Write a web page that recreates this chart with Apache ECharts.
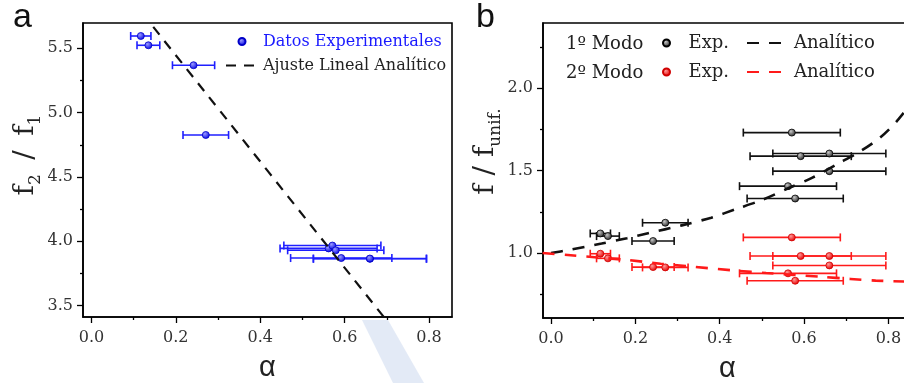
<!DOCTYPE html>
<html>
<head>
<meta charset="utf-8">
<script src="https://cdn.jsdelivr.net/npm/echarts@6/dist/echarts.min.js"></script>
<style>
  html, body { margin: 0; padding: 0; background: #fff; }
  #chart { width: 904px; height: 383px; }
</style>
</head>
<body>
<div id="chart"></div>
<script>
// Measured alpha values and their uncertainty (half width)
const alpha    = [0.117, 0.135, 0.242, 0.271, 0.562, 0.571, 0.579, 0.592, 0.660, 0.660];
const alphaErr = [0.024, 0.027, 0.050, 0.054, 0.115, 0.115, 0.114, 0.120, 0.134, 0.134];

// Panel a: ratio of the second to the first natural frequency
const ratioF2F1 = [5.595, 5.523, 5.368, 4.826, 3.945, 3.967, 3.930, 3.870, 3.864, 3.866];
// Linear fit (end points of the fitted line)
const fitAlpha = [0.12, 0.72];
const fitRatio = [5.775, 3.300];

// Panel b: frequencies normalised by the uniform beam
const mode1Ratio = [1.119, 1.103, 1.073, 1.184, 1.406, 1.731, 1.331, 1.588, 1.604, 1.497];
const mode2Ratio = [0.996, 0.968, 0.915, 0.913, 0.877, 1.095, 0.832, 0.982, 0.982, 0.925];

// Analytical curves
const curve1Alpha = [0.00, 0.04, 0.12, 0.18, 0.23, 0.31, 0.38, 0.44, 0.50, 0.56, 0.62, 0.68, 0.73, 0.78, 0.82, 0.86];
const mode1Curve  = [1.000, 1.018, 1.058, 1.090, 1.120, 1.168, 1.215, 1.268, 1.322, 1.390, 1.458, 1.542, 1.612, 1.700, 1.800, 1.930];
const curve2Alpha = [-0.02, 0.04, 0.18, 0.26, 0.32, 0.44, 0.51, 0.64, 0.71, 0.77, 0.86];
const mode2Curve  = [1.000, 0.988, 0.958, 0.935, 0.921, 0.893, 0.879, 0.856, 0.843, 0.833, 0.826];

// Axis tick values
const xTicks  = [0, 0.2, 0.4, 0.6, 0.8];
const yTicksA = [3.5, 4.0, 4.5, 5.0, 5.5];
const yTicksB = [1.0, 1.5, 2.0];

const SERIF = '"DejaVu Serif", serif';
const SANS = '"Liberation Sans", Arial, sans-serif';

function ball(light, dark) {
  return {
    type: 'radial', x: 0.38, y: 0.35, r: 0.65,
    colorStops: [{ offset: 0, color: light }, { offset: 1, color: dark }]
  };
}

function errorBars(name, gi, values, color) {
  return {
    type: 'custom', name: name, xAxisIndex: gi, yAxisIndex: gi, silent: true, z: 2,
    data: alpha.map((a, i) => [a, values[i], alphaErr[i]]),
    encode: { x: 0, y: 1 },
    renderItem: function (params, api) {
      const a = api.value(0), v = api.value(1), e = api.value(2);
      const p0 = api.coord([a - e, v]);
      const p1 = api.coord([a + e, v]);
      const h = 4;
      const style = { stroke: color, lineWidth: 1.6, fill: null };
      return {
        type: 'group',
        children: [
          { type: 'line', shape: { x1: p0[0], y1: p0[1], x2: p1[0], y2: p1[1] }, style: style },
          { type: 'line', shape: { x1: p0[0], y1: p0[1] - h, x2: p0[0], y2: p0[1] + h }, style: style },
          { type: 'line', shape: { x1: p1[0], y1: p1[1] - h, x2: p1[0], y2: p1[1] + h }, style: style }
        ]
      };
    }
  };
}

function points(name, gi, values, fill, border) {
  return {
    type: 'scatter', name: name, xAxisIndex: gi, yAxisIndex: gi, z: 3,
    symbol: 'circle', symbolSize: 7,
    itemStyle: { color: fill, borderColor: border, borderWidth: 0.8, opacity: 1 },
    data: alpha.map((a, i) => [a, values[i]])
  };
}

function curve(name, gi, xs, ys, color, width, dash) {
  return {
    type: 'line', name: name, xAxisIndex: gi, yAxisIndex: gi, z: 4,
    smooth: 0.3, symbol: 'none', showSymbol: false,
    lineStyle: { color: color, width: width, type: dash },
    itemStyle: { color: color },
    data: xs.map((x, i) => [x, ys[i]])
  };
}

function xAxis(gi) {
  return {
    type: 'value', gridIndex: gi, min: gi === 0 ? -0.020 : -0.019, max: gi === 0 ? 0.8545 : 0.856,
    splitNumber: 4,
    name: 'α', nameLocation: 'middle', nameGap: 36,
    nameTextStyle: { fontFamily: SANS, fontSize: 29, color: '#222' },
    axisLine: { show: true, onZero: false, lineStyle: { color: '#000', width: 1.6 } },
    axisTick: { show: true, length: 6, customValues: xTicks, lineStyle: { color: '#000', width: 1.3 } },
    minorTick: { show: true, splitNumber: 2, length: 3, lineStyle: { color: '#000', width: 1.3 } },
    splitLine: { show: false },
    axisLabel: {
      customValues: xTicks, margin: 13, fontFamily: SERIF, fontSize: 16, color: '#333',
      formatter: v => v.toFixed(1)
    }
  };
}

function yAxis(gi, min, max, ticks, nameRich, lift) {
  return {
    type: 'value', gridIndex: gi, min: min, max: max, splitNumber: 4,
    name: nameRich, nameLocation: 'middle', nameGap: 37,
    nameTextStyle: {
      fontFamily: SERIF, fontSize: 28, color: '#222', lineHeight: 36,
      padding: [0, 0, 0, lift],
      rich: {
        m: { fontFamily: SERIF, fontSize: 28, color: '#222', lineHeight: 36 },
        sub: { fontFamily: SERIF, fontSize: 17, color: '#222', lineHeight: 14, verticalAlign: 'bottom' }
      }
    },
    axisLine: { show: true, onZero: false, lineStyle: { color: '#000', width: 1.6 } },
    axisTick: { show: true, length: 6, customValues: ticks, lineStyle: { color: '#000', width: 1.3 } },
    minorTick: { show: true, splitNumber: 2, length: 3, lineStyle: { color: '#000', width: 1.3 } },
    splitLine: { show: false },
    axisLabel: {
      customValues: ticks, margin: 10, fontFamily: SERIF, fontSize: 16, color: '#333',
      formatter: v => v.toFixed(1)
    }
  };
}

const blueBall  = ball('#9a9aff', '#0a0ae6');
const blackBall = ball('#c8c8c8', '#2a2a2a');
const redBall   = ball('#ff9a9a', '#e60000');

// legend entry for a dashed line: hide the marker drawn in the middle of the line icon
const noMarker = { opacity: 0 };

const option = {
  backgroundColor: '#fff',
  animation: false,
  title: [
    { text: 'a', left: 13, top: 1, padding: 0, textStyle: { fontFamily: SANS, fontSize: 34, fontWeight: 'normal', color: '#111' } },
    { text: 'b', left: 476, top: 1, padding: 0, textStyle: { fontFamily: SANS, fontSize: 34, fontWeight: 'normal', color: '#111' } }
  ],
  grid: [
    { left: 83, top: 23, right: 452, bottom: 66, show: true, borderColor: '#000', borderWidth: 1.6,
      containLabel: false, outerBoundsMode: 'none' },
    { left: 543, top: 23, right: -8, bottom: 65, show: true, borderColor: '#000', borderWidth: 1.6,
      containLabel: false, outerBoundsMode: 'none' }
  ],
  xAxis: [xAxis(0), xAxis(1)],
  yAxis: [
    yAxis(0, 3.412, 5.696, yTicksA, '{m|f}{sub|2}{m| \u2009/\u2009 f}{sub|1}', 30),
    yAxis(1, 0.606, 2.396, yTicksB, '{m|f / f}{sub|unif.}', 38)
  ],
  legend: [
    {
      orient: 'vertical', left: 225, top: 32, padding: 0, itemWidth: 32, itemHeight: 7, itemGap: 5,
      selectedMode: false,
      textStyle: { fontFamily: SERIF, fontSize: 16, lineHeight: 19, color: '#222' },
      data: [
        { name: 'Datos Experimentales', icon: 'circle', textStyle: { color: '#1a1aff' } },
        { name: 'Ajuste Lineal Analítico', itemStyle: noMarker }
      ]
    },
    {
      left: 662, top: 33, padding: 0, itemWidth: 34, itemHeight: 7, selectedMode: false,
      textStyle: { fontFamily: SERIF, fontSize: 18, lineHeight: 20, color: '#222' },
      formatter: () => 'Exp.',
      data: [{ name: 'Exp. 1º Modo', icon: 'circle' }]
    },
    {
      left: 746, top: 33, padding: 0, itemWidth: 34, itemHeight: 7, selectedMode: false,
      textStyle: { fontFamily: SERIF, fontSize: 18, lineHeight: 20, color: '#222', padding: [0, 0, 0, 8] },
      formatter: () => 'Analítico',
      data: [{ name: 'Analítico 1º Modo', itemStyle: noMarker }]
    },
    {
      left: 662, top: 62, padding: 0, itemWidth: 34, itemHeight: 7, selectedMode: false,
      textStyle: { fontFamily: SERIF, fontSize: 18, lineHeight: 20, color: '#222' },
      formatter: () => 'Exp.',
      data: [{ name: 'Exp. 2º Modo', icon: 'circle' }]
    },
    {
      left: 746, top: 62, padding: 0, itemWidth: 34, itemHeight: 7, selectedMode: false,
      textStyle: { fontFamily: SERIF, fontSize: 18, lineHeight: 20, color: '#222', padding: [0, 0, 0, 8] },
      formatter: () => 'Analítico',
      data: [{ name: 'Analítico 2º Modo', itemStyle: noMarker }]
    }
  ],
  graphic: [
    { type: 'text', left: 566, top: 35, silent: true,
      style: { text: '1º Modo', font: '18px ' + SERIF, fill: '#222' } },
    { type: 'text', left: 566, top: 64, silent: true,
      style: { text: '2º Modo', font: '18px ' + SERIF, fill: '#222' } },
    { type: 'polygon', silent: true, z: -10,
      shape: { points: [[362, 320], [388, 320], [424, 383], [393, 383]] },
      style: { fill: 'rgba(200, 214, 238, 0.5)' } }
  ],
  series: [
    // panel a
    errorBars('errA', 0, ratioF2F1, '#1f1fff'),
    points('Datos Experimentales', 0, ratioF2F1, blueBall, '#0000c8'),
    curve('Ajuste Lineal Analítico', 0, fitAlpha, fitRatio, '#111', 2.2, [10, 8]),
    // panel b
    errorBars('errB1', 1, mode1Ratio, '#111'),
    errorBars('errB2', 1, mode2Ratio, '#ff1a1a'),
    points('Exp. 1º Modo', 1, mode1Ratio, blackBall, '#000'),
    points('Exp. 2º Modo', 1, mode2Ratio, redBall, '#d00000'),
    curve('Analítico 1º Modo', 1, curve1Alpha, mode1Curve, '#111', 2.6, [12, 10]),
    curve('Analítico 2º Modo', 1, curve2Alpha, mode2Curve, '#ff1a1a', 2.6, [12, 10])
  ]
};

const chart = echarts.init(document.getElementById('chart'), null, { renderer: 'canvas' });
chart.setOption(option);
</script>
</body>
</html>
